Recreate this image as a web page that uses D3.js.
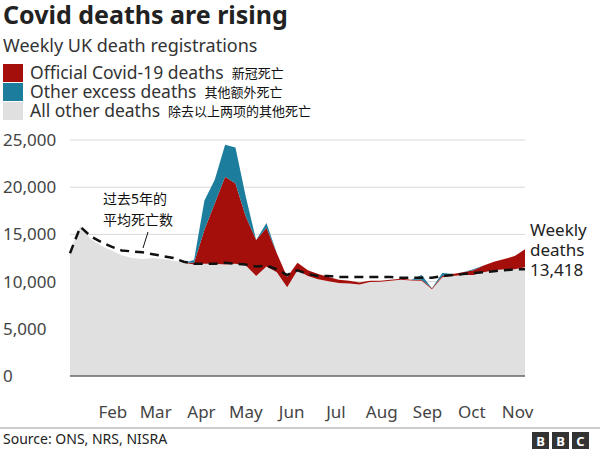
<!DOCTYPE html>
<html><head><meta charset="utf-8">
<script src="https://cdn.jsdelivr.net/npm/d3@7"></script>
<style>body{margin:0;background:#fff;font-family:"Noto Sans","Noto Sans CJK SC",sans-serif}</style>
</head><body><div id="root"></div>
<script>
// weekly registrations, 2020 (week ending Jan 3 onwards)
const totalDeaths = [13200,15900,14500,13800,13300,12800,12500,12400,12500,12400,12200,12000,12300,18600,20800,24500,24200,19000,14400,16200,13000,10500,12000,11200,10800,10500,10200,10100,9900,10100,10100,10200,10300,10200,10700,9300,10900,10800,11000,11300,11700,12100,12400,12700,13418]
const covidDeaths = [0,0,0,0,0,0,0,0,0,0,0,0,200,3600,6400,9300,8500,5200,3800,4100,2000,1100,800,600,550,450,350,300,200,150,120,100,100,80,100,100,150,200,300,500,700,900,1100,1400,1900]
const otherExcess = [0,0,0,0,0,0,0,0,0,0,0,0,300,3100,2500,3400,3800,2100,0,500,0,0,0,0,0,0,0,0,0,0,0,0,0,0,500,0,300,0,0,100,0,0,0,0,0]
const fiveYearAvg = [13000,15800,14800,14200,13700,13300,13200,13100,12900,12700,12500,12100,11900,11900,11900,12000,11900,11800,11600,11700,11300,10700,11200,10800,10600,10600,10500,10500,10500,10500,10500,10500,10400,10400,10400,10400,10600,10700,10800,10900,11000,11100,11200,11300,11300]
const yTicks = [0,5000,10000,15000,20000,25000]
const monthTicks = ["2020-02-01","2020-03-01","2020-04-01","2020-05-01","2020-06-01","2020-07-01","2020-08-01","2020-09-01","2020-10-01","2020-11-01"]

const weeks = totalDeaths.map((d,i) => d3.timeDay.offset(new Date(2020,0,3), i*7))
const rows = weeks.map((w,i) => ({
  week: w,
  other: totalDeaths[i]-covidDeaths[i]-otherExcess[i],
  covid: covidDeaths[i],
  excess: otherExcess[i],
  avg: fiveYearAvg[i]
}))

const W = 600, H = 450
const svg = d3.select("#root").append("svg").attr("width",W).attr("height",H)

const x = d3.scaleTime().domain([weeks[0], weeks[weeks.length-1]]).range([70,525])
const y = d3.scaleLinear().domain([0,25000]).range([376,140])

svg.append("text").attr("x",3).attr("y",24).attr("font-size",25).attr("font-weight","bold").attr("fill","#222").text("Covid deaths are rising")
svg.append("text").attr("x",3).attr("y",52).attr("font-size",18).attr("fill","#333").text("Weekly UK death registrations")

const legend = [
  ["#a50f0b","Official Covid-19 deaths","新冠死亡"],
  ["#1c7d9c","Other excess deaths","其他额外死亡"],
  ["#e0e0e0","All other deaths","除去以上两项的其他死亡"]
]
legend.forEach((l,i) => {
  const ly = 64 + i*19
  svg.append("rect").attr("x",3).attr("y",ly).attr("width",20).attr("height",18).attr("fill",l[0])
  const t = svg.append("text").attr("x",30).attr("y",ly+15).attr("font-size",17.5).attr("fill","#333").text(l[1])
  const end = 30 + t.node().getComputedTextLength()
  svg.append("text").attr("x",end+8).attr("y",ly+14).attr("font-size",13).attr("fill","#111").text(l[2])
})

// grid
svg.selectAll("line.grid").data(yTicks.slice(1)).enter().append("line")
  .attr("x1",70).attr("x2",525).attr("y1",d=>y(d)).attr("y2",d=>y(d))
  .attr("stroke","#d8d8d8")
svg.selectAll("text.ytick").data(yTicks).enter().append("text")
  .attr("x",3).attr("y",d=>y(d)+6).attr("font-size",17).attr("fill","#444")
  .text(d3.format(","))

const stack = d3.stack().keys(["other","covid","excess"])(rows)
const colors = {other:"#e0e0e0", covid:"#a50f0b", excess:"#1c7d9c"}
const area = d3.area().x(d=>x(d.data.week)).y0(d=>y(d[0])).y1(d=>y(d[1]))
svg.selectAll("path.layer").data(stack).enter().append("path")
  .attr("d",area).attr("fill",d=>colors[d.key])

svg.append("path").datum(rows)
  .attr("d", d3.line().x(d=>x(d.week)).y(d=>y(d.avg)))
  .attr("fill","none").attr("stroke","#111").attr("stroke-width",2.5).attr("stroke-dasharray","9,6")

svg.append("line").attr("x1",70).attr("x2",525).attr("y1",y(0)).attr("y2",y(0)).attr("stroke","#666").attr("stroke-width",1.5)

// x axis
svg.selectAll("text.month").data(monthTicks.map(d=>new Date(d+"T00:00"))).enter().append("text")
  .attr("x",d=>x(d)).attr("y",418).attr("text-anchor","middle").attr("font-size",17).attr("fill","#444")
  .text(d3.timeFormat("%b"))

// annotations
svg.append("text").attr("x",103).attr("y",204).attr("font-size",14).attr("fill","#111").text("过去5年的")
svg.append("text").attr("x",103).attr("y",225).attr("font-size",14).attr("fill","#111").text("平均死亡数")
svg.append("line").attr("x1",148).attr("y1",232).attr("x2",143).attr("y2",248).attr("stroke","#111")
;["Weekly","deaths",d3.format(",")(totalDeaths[totalDeaths.length-1])].forEach((t,i) => {
  svg.append("text").attr("x",530).attr("y",236+i*20)
    .attr("font-size",17).attr("fill","#222").text(t)
})

svg.append("line").attr("x1",0).attr("x2",600).attr("y1",428).attr("y2",428).attr("stroke","#999")
svg.append("text").attr("x",3).attr("y",444).attr("font-size",14).attr("fill","#222").text("Source: ONS, NRS, NISRA")
;["B","B","C"].forEach((c,i) => {
  svg.append("rect").attr("x",532+i*20).attr("y",432).attr("width",17).attr("height",17).attr("fill","#333")
  svg.append("text").attr("x",540.5+i*20).attr("y",446).attr("text-anchor","middle").attr("font-size",13).attr("font-weight","bold").attr("fill","#fff").text(c)
})
</script></body></html>
